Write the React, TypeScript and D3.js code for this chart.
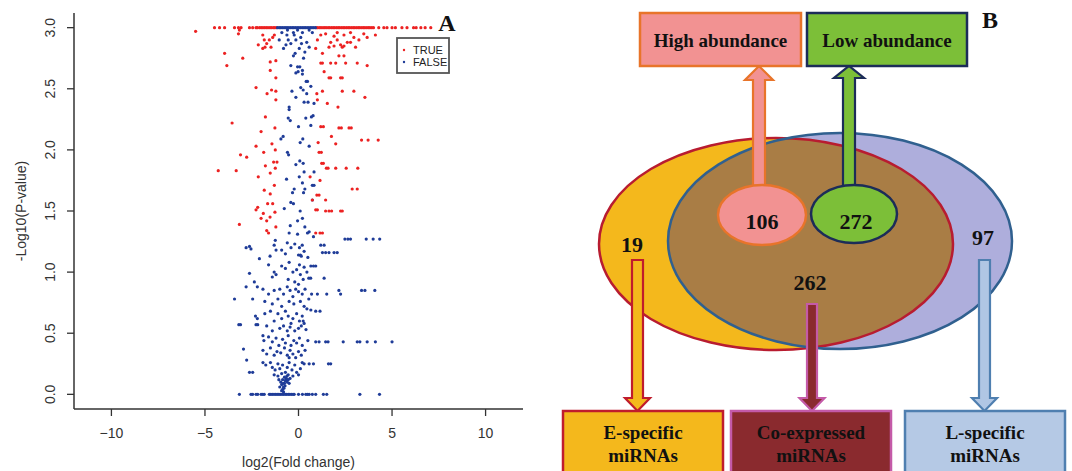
import * as React from "react";
import * as d3 from "d3";

// ---- panel A data: volcano plot ----
const xTicks = [-10, -5, 0, 5, 10];
const yTicks = [0, 0.5, 1, 1.5, 2, 2.5, 3];

// points saturated at -log10(p) = 3
const trueTopRowX = [
  -4.49, -4.22, -3.95, -3.42, -3.21, -3.07, -2.62, -2.45, -2.27, -2.2, -2.08, -1.99,
  -1.9, -1.81, -1.72, -1.63, -1.53, -1.45, -1.35, -1.27, -1.18, 0.95, 1.03, 1.13,
  1.21, 1.31, 1.4, 1.48, 1.58, 1.66, 1.76, 1.85, 1.93, 2.03, 2.12, 2.2, 2.3, 2.39,
  2.47, 2.57, 2.66, 2.74, 2.84, 2.93, 3.01, 3.11, 3.2, 3.28, 3.38, 3.47, 3.55, 3.65,
  3.74, 3.82, 3.92, 4.01, 4.29, 4.56, 4.73, 5.0, 5.18, 5.53, 5.8, 6.15, 6.29, 6.54,
  6.77, 7.07,
];
const falseTopRowX = [
  -1.12, -1.03, -0.95, -0.86, -0.77, -0.68, -0.6, -0.51, -0.42, -0.33, -0.25, -0.16,
  -0.07, 0.02, 0.11, 0.2, 0.29, 0.37, 0.46, 0.55, 0.64, 0.72, 0.81, 0.9,
];
// points at -log10(p) = 0
const falseZeroRowX = [
  -3.16, -2.54, -2.45, -2.27, -2.18, -2.0, -1.91, -1.83, -1.56, -1.48, -1.4, -1.31,
  -1.22, -1.14, -1.05, -0.97, -0.88, -0.8, -0.71, -0.63, -0.54, -0.46, -0.37, -0.29,
  -0.23, 0.0, 0.21, 0.39, 0.48, 0.57, 0.74, 0.92, 1.33, 1.51, 3.28, 4.33,
];

const truePoints: [number, number][] = [
  [-5.5, 2.97], [-3.21, 2.95], [-3.16, 2.98], [-1.91, 2.94], [-1.83, 2.9], [-1.38, 2.92],
  [-1.56, 2.9], [-2.15, 2.86], [-1.7, 2.87], [-1.79, 2.84], [-1.91, 2.83], [-1.47, 2.84],
  [-1.29, 2.94], [1.19, 2.94], [1.45, 2.95], [1.9, 2.93], [2.07, 2.96], [2.43, 2.94],
  [2.78, 2.96], [2.96, 2.92], [3.49, 2.95], [3.67, 2.92], [4.11, 2.94], [1.01, 2.9],
  [1.72, 2.88], [2.07, 2.9], [2.61, 2.88], [3.23, 2.9], [2.25, 2.86], [1.63, 2.84],
  [1.9, 2.85], [2.34, 2.84], [2.43, 2.85], [0.92, 2.83], [2.78, 2.88], [3.05, 2.84],
  [-3.95, 2.79], [-2.98, 2.75], [-3.83, 2.69], [-1.21, 2.73], [-1.51, 2.72], [1.28, 2.79],
  [2.16, 2.77], [2.43, 2.77], [1.19, 2.71], [1.28, 2.71], [1.72, 2.71], [1.99, 2.71],
  [2.52, 2.71], [3.14, 2.71], [3.67, 2.69], [-1.51, 2.65], [1.37, 2.64], [-1.21, 2.59],
  [1.63, 2.59], [1.72, 2.59], [2.25, 2.59], [2.34, 2.59], [-2.27, 2.51], [-1.44, 2.49],
  [-1.68, 2.46], [-1.21, 2.48], [-1.21, 2.41], [0.98, 2.46], [1.28, 2.48], [1.01, 2.41],
  [2.34, 2.48], [2.96, 2.48], [3.55, 2.43], [1.54, 2.38], [2.11, 2.35], [-1.77, 2.27],
  [-3.55, 2.22], [-1.26, 2.18], [1.19, 2.19], [1.33, 2.19], [2.16, 2.18], [2.29, 2.18],
  [2.7, 2.18], [2.82, 2.18], [-2.0, 2.15], [1.76, 2.11], [-1.42, 2.05], [1.05, 2.06],
  [1.99, 2.05], [3.37, 2.08], [3.72, 2.08], [4.26, 2.08], [-2.27, 2.03], [-1.24, 2.0],
  [-3.1, 1.96], [-2.77, 1.94], [-1.86, 1.98], [1.1, 1.98], [1.22, 1.98], [-1.33, 1.9],
  [-1.15, 1.9], [-1.77, 1.87], [1.24, 1.89], [1.33, 1.89], [-1.24, 1.85], [1.49, 1.85],
  [1.58, 1.85], [1.99, 1.85], [2.55, 1.85], [3.17, 1.85], [-4.29, 1.83], [-3.33, 1.83],
  [-1.51, 1.81], [-2.15, 1.78], [0.62, 1.78], [1.15, 1.75], [-1.29, 1.71], [2.87, 1.68],
  [3.14, 1.68], [-1.83, 1.67], [-1.51, 1.64], [0.98, 1.63], [1.1, 1.63], [0.74, 1.59],
  [1.45, 1.59], [-1.65, 1.56], [-1.38, 1.56], [-2.18, 1.53], [-2.27, 1.51], [0.92, 1.51],
  [1.01, 1.51], [1.45, 1.5], [1.63, 1.5], [1.77, 1.5], [2.25, 1.5], [2.34, 1.5],
  [-1.88, 1.48], [-1.26, 1.49], [-1.52, 1.45], [-2.0, 1.44], [-1.7, 1.42], [-3.16, 1.39],
  [-1.21, 1.37], [-1.7, 1.34], [-1.6, 1.32], [0.92, 1.32], [1.15, 1.32], [1.28, 1.32],
];

const falsePoints: [number, number][] = [
  [-0.89, 2.96], [-0.59, 2.98], [-0.27, 2.96], [-0.05, 2.98], [0.21, 2.96], [0.57, 2.98],
  [0.74, 2.96], [-0.62, 2.94], [-0.23, 2.94], [-1.03, 2.9], [-0.55, 2.9], [-0.14, 2.9],
  [0.12, 2.92], [-0.67, 2.86], [-0.41, 2.87], [0.16, 2.87], [0.44, 2.88], [0.57, 2.84],
  [-0.8, 2.83], [0.04, 2.83], [-0.18, 2.79], [0.34, 2.8], [-0.27, 2.77], [0.27, 2.75],
  [-0.41, 2.69], [-0.05, 2.68], [0.07, 2.68], [0.21, 2.65], [-0.14, 2.63], [-0.02, 2.64],
  [0.21, 2.62], [0.41, 2.56], [0.48, 2.56], [0.12, 2.51], [0.66, 2.52], [0.25, 2.49],
  [0.44, 2.46], [-0.35, 2.48], [-0.14, 2.43], [0.3, 2.39], [0.51, 2.39], [0.83, 2.38],
  [-0.5, 2.35], [-0.5, 2.33], [-0.55, 2.26], [-0.44, 2.24], [0.39, 2.26], [0.69, 2.27],
  [0.78, 2.28], [0.0, 2.19], [0.66, 2.2], [-0.82, 2.11], [-0.94, 2.09], [0.23, 2.09],
  [0.09, 2.06], [0.57, 2.03], [-0.59, 1.98], [-0.53, 1.96], [0.07, 1.91], [-0.14, 1.88],
  [0.25, 1.89], [-0.64, 1.76], [0.3, 1.82], [0.83, 1.82], [0.04, 1.78], [0.21, 1.73],
  [-0.23, 1.68], [0.34, 1.68], [-0.32, 1.65], [0.27, 1.65], [0.74, 1.71], [0.83, 1.71],
  [-0.41, 1.57], [-0.27, 1.56], [0.74, 1.59], [-0.76, 1.52], [0.09, 1.5], [0.21, 1.44],
  [-0.05, 1.42], [-0.44, 1.38], [0.34, 1.37], [0.57, 1.33], [0.48, 1.32], [0.8, 1.29],
  [-0.5, 1.32], [-0.05, 1.31],
  [2.48, 1.27], [2.64, 1.27], [2.78, 1.27], [3.62, 1.27], [3.99, 1.27], [4.34, 1.27],
  [-1.24, 1.26], [-2.8, 1.2], [-2.62, 1.21], [-2.54, 1.19], [1.19, 1.22], [1.37, 1.22],
  [1.28, 1.16], [1.45, 1.16], [1.63, 1.16], [1.9, 1.16], [2.07, 1.16], [-2.09, 1.11],
  [-1.52, 1.13], [0.66, 1.05], [0.92, 1.05], [1.37, 0.95], [-2.62, 0.99], [-2.8, 0.88],
  [-2.36, 0.92], [-3.42, 0.78], [-2.45, 0.78], [2.16, 0.85], [2.25, 0.82], [3.37, 0.85],
  [3.55, 0.85], [4.08, 0.85], [1.01, 0.82], [1.51, 0.82], [0.66, 0.69], [0.92, 0.68],
  [1.15, 0.68], [-3.19, 0.57], [-3.1, 0.57], [-2.27, 0.57], [-2.18, 0.57], [-2.94, 0.37],
  [-2.77, 0.28], [-2.62, 0.18], [-2.45, 0.18], [0.92, 0.43], [1.1, 0.43], [1.45, 0.43],
  [1.58, 0.43], [2.39, 0.43], [3.14, 0.43], [3.28, 0.43], [3.67, 0.43], [4.11, 0.43],
  [5.0, 0.43], [0.3, 0.25], [0.57, 0.25], [0.8, 0.25], [1.6, 0.25], [1.72, 0.25],
  [-1.3, 1.22], [-1.2, 1.18], [-0.9, 1.18], [-0.6, 1.24], [-0.4, 1.2], [-0.2, 1.23],
  [0.05, 1.2], [0.2, 1.22], [0.3, 1.17], [0.0, 1.14], [0.1, 1.14], [0.15, 1.13],
  [-0.7, 1.15], [0.5, 1.12], [-1.6, 1.06], [-1.3, 1.0], [-1.2, 0.98], [-1.4, 0.96],
  [-0.9, 1.05], [-0.7, 1.03], [-0.5, 1.08], [-0.3, 1.0], [-0.1, 1.02], [0.05, 1.06],
  [0.1, 0.98], [0.3, 1.04], [0.45, 1.0], [0.8, 1.05], [-0.55, 0.94], [-0.2, 0.92],
  [0.0, 0.9], [0.25, 0.94], [0.55, 0.95], [0.65, 0.95], [-2.2, 0.88], [-1.9, 0.86],
  [-1.6, 0.82], [-1.3, 0.85], [-1.0, 0.86], [-0.8, 0.82], [-0.6, 0.88], [-0.45, 0.85],
  [-0.3, 0.8], [-0.15, 0.86], [0.0, 0.84], [0.2, 0.82], [0.35, 0.86], [0.55, 0.78],
  [0.7, 0.82], [-1.8, 0.76], [-1.4, 0.74], [-1.1, 0.78], [-0.9, 0.72], [-0.5, 0.76],
  [-0.25, 0.74], [0.1, 0.76], [0.3, 0.72], [0.45, 0.7], [-2.3, 0.64], [-2.2, 0.62],
  [-1.8, 0.66], [-1.5, 0.68], [-1.3, 0.6], [-1.1, 0.66], [-0.9, 0.62], [-0.7, 0.68],
  [-0.55, 0.64], [-0.4, 0.58], [-0.3, 0.62], [-0.1, 0.66], [0.05, 0.6], [0.2, 0.64],
  [0.3, 0.58], [-1.7, 0.56], [-1.4, 0.52], [-1.0, 0.54], [-0.8, 0.56], [-0.6, 0.52],
  [-0.45, 0.55], [-0.2, 0.52], [0.0, 0.54], [0.15, 0.56], [0.4, 0.53], [0.25, 0.6],
  [-1.9, 0.48], [-1.85, 0.44], [-1.6, 0.47], [-1.4, 0.43], [-1.2, 0.46], [-1.05, 0.4],
  [-0.85, 0.45], [-0.7, 0.42], [-0.55, 0.48], [-0.4, 0.4], [-0.25, 0.44], [-0.1, 0.42],
  [0.05, 0.46], [0.2, 0.4], [0.5, 0.44], [-1.9, 0.36], [-1.7, 0.33], [-1.5, 0.38],
  [-1.3, 0.32], [-1.15, 0.35], [-0.95, 0.34], [-0.75, 0.38], [-0.6, 0.32], [-0.45, 0.36],
  [-0.3, 0.33], [-0.15, 0.3], [0.0, 0.35], [0.15, 0.32], [0.35, 0.36], [-0.5, 0.3],
  [-1.9, 0.26], [-1.75, 0.24], [-1.5, 0.26], [-1.4, 0.22], [-1.25, 0.2], [-1.1, 0.25],
  [-1.0, 0.21], [-0.85, 0.24], [-0.7, 0.18], [-0.6, 0.22], [-0.5, 0.26], [-0.35, 0.2],
  [-0.2, 0.24], [-0.1, 0.18], [0.1, 0.21], [0.2, 0.26], [-1.3, 0.16], [-1.1, 0.15],
  [-0.9, 0.17], [-0.75, 0.14], [-0.55, 0.16], [-0.45, 0.13], [-0.3, 0.15], [0.0, 0.16],
  [-1.05, 0.12], [-0.95, 0.1], [-0.9, 0.08], [-0.85, 0.12], [-0.8, 0.06], [-0.75, 0.09],
  [-0.7, 0.11], [-0.65, 0.13], [-0.6, 0.1], [-0.85, 0.04], [-0.8, 0.02], [-0.78, 0.05],
  [-0.72, 0.07], [-0.68, 0.12], [-0.62, 0.15], [-0.55, 0.12], [-0.9, 0.03], [-0.5, 0.09],
  [-1.0, 0.06], [-0.82, 0.09],
];

const legendLabels = ["TRUE", "FALSE"];

// ---- panel B data: Venn diagram ----
const vennCounts = { eOnly: 19, lOnly: 97, shared: 262, high: 106, low: 272 };
const topBoxLabels = ["High abundance", "Low abundance"];
const bottomBoxLabels = [
  ["E-specific", "miRNAs"],
  ["Co-expressed", "miRNAs"],
  ["L-specific", "miRNAs"],
];

const RED = "#ec2222";
const BLUE = "#1f3c98";
const DOT = 1.6;
const sans = "'Liberation Sans', Arial, sans-serif";
const serif = "'Liberation Serif', 'Times New Roman', serif";

// vertical block arrow outline
function arrowPath(cx: number, y0: number, y1: number, shaftW: number, headW: number, headLen: number) {
  const dir = y1 > y0 ? 1 : -1;
  const yb = y1 - dir * headLen;
  const p = d3.path();
  p.moveTo(cx - shaftW / 2, y0);
  p.lineTo(cx - shaftW / 2, yb);
  p.lineTo(cx - headW / 2, yb);
  p.lineTo(cx, y1);
  p.lineTo(cx + headW / 2, yb);
  p.lineTo(cx + shaftW / 2, yb);
  p.lineTo(cx + shaftW / 2, y0);
  p.closePath();
  return p.toString();
}

function PanelA() {
  const x = d3.scaleLinear().domain([-12, 12]).range([74, 523]);
  const y = d3.scaleLinear().domain([-0.12, 3.12]).range([409, 13]);
  const axisColor = "#333";
  return (
    <g>
      <line x1={x(-12)} x2={x(12)} y1={y(-0.12)} y2={y(-0.12)} stroke={axisColor} strokeWidth={1.5} />
      <line x1={x(-12)} x2={x(-12)} y1={y(-0.12)} y2={y(3.12)} stroke={axisColor} strokeWidth={1.5} />
      {xTicks.map((t) => (
        <g key={"xt" + t}>
          <line x1={x(t)} x2={x(t)} y1={y(-0.12)} y2={y(-0.12) + 7} stroke={axisColor} strokeWidth={1.3} />
          <text x={x(t)} y={438} textAnchor="middle" fontFamily={sans} fontSize={14} fill="#333">
            {t < 0 ? "\u2212" + Math.abs(t) : t}
          </text>
        </g>
      ))}
      {yTicks.map((t) => (
        <g key={"yt" + t}>
          <line x1={x(-12)} x2={x(-12) - 7} y1={y(t)} y2={y(t)} stroke={axisColor} strokeWidth={1.3} />
          <text transform={`translate(55,${y(t)}) rotate(-90)`} textAnchor="middle" fontFamily={sans} fontSize={14} fill="#333">
            {t.toFixed(1)}
          </text>
        </g>
      ))}
      <text x={x(0)} y={467} textAnchor="middle" fontFamily={sans} fontSize={14} fill="#333">
        log2(Fold change)
      </text>
      <text transform={`translate(26,${(y(3.12) + y(-0.12)) / 2}) rotate(-90)`} textAnchor="middle" fontFamily={sans} fontSize={14} fill="#333">
        -Log10(P-value)
      </text>

      {falseZeroRowX.map((v, i) => (
        <circle key={"fz" + i} cx={x(v)} cy={y(0)} r={DOT} fill={BLUE} />
      ))}
      {falsePoints.map(([a, b], i) => (
        <circle key={"fp" + i} cx={x(a)} cy={y(b)} r={DOT} fill={BLUE} />
      ))}
      {trueTopRowX.map((v, i) => (
        <circle key={"tt" + i} cx={x(v)} cy={y(3)} r={DOT} fill={RED} />
      ))}
      {truePoints.map(([a, b], i) => (
        <circle key={"tp" + i} cx={x(a)} cy={y(b)} r={DOT} fill={RED} />
      ))}
      {falseTopRowX.map((v, i) => (
        <circle key={"ft" + i} cx={x(v)} cy={y(3)} r={DOT} fill={BLUE} />
      ))}

      <rect x={397} y={38} width={52} height={35} fill="white" stroke="#555" strokeWidth={1.8} />
      {legendLabels.map((l, i) => (
        <g key={l}>
          <circle cx={404} cy={50 + i * 12} r={1.2} fill={i === 0 ? RED : BLUE} />
          <text x={413} y={54 + i * 12} fontFamily={sans} fontSize={11} fill="#222">
            {l}
          </text>
        </g>
      ))}
      <text x={447} y={31} textAnchor="middle" fontFamily={serif} fontWeight="bold" fontSize={24} fill="#111">
        A
      </text>
    </g>
  );
}

function PanelB() {
  const E = { cx: 776, cy: 244, rx: 177, ry: 106 };
  const L = { cx: 840, cy: 241, rx: 172, ry: 108 };
  const boxFont = { fontFamily: serif, fontWeight: "bold" as const, fontSize: 19, fill: "#111", textAnchor: "middle" as const };
  const numFont = { fontFamily: serif, fontWeight: "bold" as const, fontSize: 22, fill: "#111", textAnchor: "middle" as const };
  const topBoxes = [
    { x: 640, w: 161, fill: "#f29292", stroke: "#e8742a" },
    { x: 807, w: 160, fill: "#7cbf38", stroke: "#1c2c58" },
  ];
  const bottomBoxes = [
    { x: 563, w: 160, fill: "#f4b81c", stroke: "#c01c2c" },
    { x: 731, w: 160, fill: "#8a2a2e", stroke: "#c45aa8" },
    { x: 905, w: 160, fill: "#b5c9e5", stroke: "#4f7fb0" },
  ];
  return (
    <g>
      <defs>
        <clipPath id="clipE">
          <ellipse cx={E.cx} cy={E.cy} rx={E.rx} ry={E.ry} />
        </clipPath>
      </defs>
      <ellipse cx={E.cx} cy={E.cy} rx={E.rx} ry={E.ry} fill="#f4b81c" />
      <ellipse cx={L.cx} cy={L.cy} rx={L.rx} ry={L.ry} fill="#aeaedc" />
      <ellipse cx={L.cx} cy={L.cy} rx={L.rx} ry={L.ry} fill="#a97d45" clipPath="url(#clipE)" />
      <ellipse cx={E.cx} cy={E.cy} rx={E.rx} ry={E.ry} fill="none" stroke="#b81c30" strokeWidth={2.5} />
      <ellipse cx={L.cx} cy={L.cy} rx={L.rx} ry={L.ry} fill="none" stroke="#30608f" strokeWidth={2.5} />

      {/* up arrows to abundance boxes */}
      <path d={arrowPath(759, 190, 66, 12, 28, 14)} fill="#f29292" stroke="#e8742a" strokeWidth={2.2} />
      <path d={arrowPath(849, 190, 66, 12, 30, 12)} fill="#7cbf38" stroke="#1c2c58" strokeWidth={2.2} />

      <ellipse cx={762} cy={215} rx={44} ry={30} fill="#f29292" stroke="#e8742a" strokeWidth={2.5} />
      <ellipse cx={854} cy={214} rx={43} ry={29} fill="#7cbf38" stroke="#1c2c58" strokeWidth={2.5} />
      <text x={762} y={229} {...numFont}>{vennCounts.high}</text>
      <text x={856} y={229} {...numFont}>{vennCounts.low}</text>
      <text x={632} y={252} {...numFont}>{vennCounts.eOnly}</text>
      <text x={983} y={245} {...numFont}>{vennCounts.lOnly}</text>
      <text x={810} y={290} {...numFont}>{vennCounts.shared}</text>

      {/* down arrows to category boxes */}
      <path d={arrowPath(637.5, 260, 411, 11, 25, 13)} fill="#f4b81c" stroke="#c01c2c" strokeWidth={2.2} />
      <path d={arrowPath(812, 304, 411, 10, 25, 13)} fill="#8a2a2e" stroke="#c45aa8" strokeWidth={2.2} />
      <path d={arrowPath(984.5, 260, 411, 11, 25, 13)} fill="#b0c6e4" stroke="#4f7fb0" strokeWidth={2.2} />

      {topBoxes.map((b, i) => (
        <g key={"tb" + i}>
          <rect x={b.x} y={13} width={b.w} height={53} fill={b.fill} stroke={b.stroke} strokeWidth={2.5} />
          <text x={b.x + b.w / 2} y={47} {...boxFont}>{topBoxLabels[i]}</text>
        </g>
      ))}
      {bottomBoxes.map((b, i) => (
        <g key={"bb" + i}>
          <rect x={b.x} y={411} width={b.w} height={70} fill={b.fill} stroke={b.stroke} strokeWidth={2.5} />
          <text x={b.x + b.w / 2} y={439} {...boxFont}>{bottomBoxLabels[i][0]}</text>
          <text x={b.x + b.w / 2} y={462} {...boxFont}>{bottomBoxLabels[i][1]}</text>
        </g>
      ))}
      <text x={990} y={28} textAnchor="middle" fontFamily={serif} fontWeight="bold" fontSize={24} fill="#111">
        B
      </text>
    </g>
  );
}

export default function App() {
  return (
    <svg
      width={1072}
      height={471}
      viewBox="0 0 1072 471"
      style={{ position: "absolute", left: 0, top: 0, background: "white" }}
    >
      <rect width={1072} height={471} fill="white" />
      <PanelA />
      <PanelB />
    </svg>
  );
}
